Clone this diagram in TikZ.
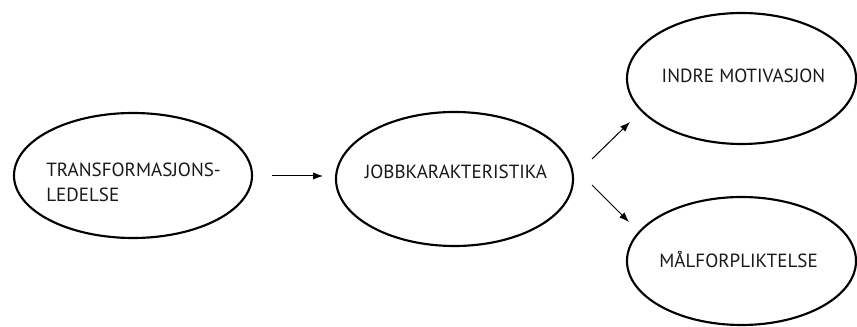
\documentclass[tikz,border=0pt]{standalone}
\usepackage{fontspec}
\setmainfont{PT Sans}
\usetikzlibrary{shapes.geometric,arrows.meta}
\tikzset{
  oval/.style={draw=black, ellipse, line width=1.6pt, inner sep=0pt},
  lbl/.style={font=\fontsize{14.3pt}{18.75pt}\selectfont, text=black!90, inner sep=0pt},
  arr/.style={line width=0.75pt, -{Latex[length=7.5pt,width=5.5pt]}}
}
\begin{document}
\begin{tikzpicture}[x=0.75pt, y=-0.75pt]
  \useasboundingbox (0,0) rectangle (857,327);
  % the four ovals
  \node[oval, minimum width=178.5pt, minimum height=93.75pt] (lead) at (133,175.5) {};
  \node[oval, minimum width=177.75pt, minimum height=100.5pt] (job) at (454.5,179) {};
  \node[oval, minimum width=171.75pt, minimum height=98.25pt] (motiv) at (741.5,78.5) {};
  \node[oval, minimum width=171.75pt, minimum height=96pt] (goal) at (741.5,261) {};
  % labels
  \node[lbl, anchor=base west, align=left] (leadtxt) at (46,202) {TRANSFORMASJONS-\\LEDELSE};
  \node[lbl, anchor=base] (jobtxt) at (456,179) {JOBBKARAKTERISTIKA};
  \node[lbl, anchor=base] (motivtxt) at (743.5,83) {INDRE MOTIVASJON};
  \node[lbl, anchor=base] (goaltxt) at (738.5,268) {MÅLFORPLIKTELSE};
  % arrow end points between the ovals
  \coordinate (a1s) at (272,176);
  \coordinate (a1e) at (323,176);
  \coordinate (a2s) at (592,159);
  \coordinate (a2e) at (630,122);
  \coordinate (a3s) at (592,185);
  \coordinate (a3e) at (629,222);
  \draw[arr] (a1s) -- (a1e);
  \draw[arr] (a2s) -- (a2e);
  \draw[arr] (a3s) -- (a3e);
\end{tikzpicture}
\end{document}
